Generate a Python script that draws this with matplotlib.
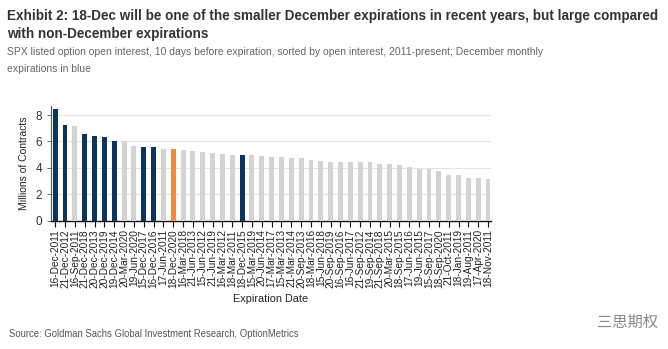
import matplotlib
matplotlib.use("Agg")
import matplotlib.pyplot as plt

labels = ["16-Dec-2011", "21-Dec-2012", "16-Sep-2011", "21-Dec-2018", "20-Dec-2013",
          "20-Dec-2019", "19-Dec-2014", "20-Mar-2020", "19-Jun-2020", "15-Dec-2017",
          "16-Dec-2016", "17-Jun-2011", "18-Dec-2020", "16-Mar-2018", "21-Jun-2013",
          "15-Jun-2012", "21-Jun-2019", "16-Mar-2012", "18-Mar-2011", "18-Dec-2015",
          "15-Mar-2019", "20-Jun-2014", "17-Mar-2017", "15-Mar-2013", "21-Mar-2014",
          "20-Sep-2013", "18-Mar-2016", "15-Jun-2018", "20-Sep-2019", "16-Sep-2016",
          "16-Jun-2017", "21-Sep-2012", "19-Sep-2014", "21-Sep-2018", "20-Mar-2015",
          "18-Sep-2015", "17-Jun-2016", "19-Jun-2015", "15-Sep-2017", "18-Sep-2020",
          "21-Oct-2011", "18-Jan-2019", "19-Aug-2011", "17-Apr-2020", "18-Nov-2011"]
values = [8.45, 7.25, 7.18, 6.58, 6.42, 6.35, 6.07, 6.07, 5.67, 5.6,
          5.6, 5.45, 5.4, 5.37, 5.3, 5.22, 5.12, 5.04, 4.97, 4.98,
          4.97, 4.9, 4.84, 4.83, 4.76, 4.75, 4.6, 4.53, 4.48, 4.46,
          4.42, 4.42, 4.42, 4.3, 4.3, 4.23, 4.08, 3.93, 3.9, 3.8,
          3.5, 3.5, 3.27, 3.27, 3.2]
# category: 'dec' = December monthly, 'cur' = 18-Dec-2020, 'other'
kinds = ["dec", "dec", "other", "dec", "dec", "dec", "dec", "other", "other", "dec",
         "dec", "other", "cur"] + ["other"] * 6 + ["dec"] + ["other"] * 25
yticks = [0, 2, 4, 6, 8]

palette = {"dec": "#0B365C", "cur": "#F28C38", "other": "#D3D3D3"}

sans = "Liberation Sans"

fig = plt.figure(figsize=(6.68, 3.49), dpi=100)
ax = fig.add_axes([0.0760, 0.3668, 0.6590, 0.3295])

x = list(range(len(values)))
ax.bar(x, values, width=0.5, color=[palette[k] for k in kinds], zorder=3)
ax.set_xlim(-0.45, len(values) - 0.7)
ax.set_ylim(0, 8.68)
ax.set_yticks(yticks)
ax.set_yticklabels([str(t) for t in yticks], fontsize=8.5, family=sans, color="#333333")
ax.set_xticks(x)
ax.set_xticklabels(labels, rotation=90, fontsize=7.3, family=sans, color="#222222")
ax.yaxis.grid(True, color="#E4E4E4", linewidth=0.8, zorder=0)
for s in ["top", "right"]:
    ax.spines[s].set_visible(False)
ax.spines["left"].set_color("#555555")
ax.spines["left"].set_linewidth(0.8)
ax.spines["bottom"].set_color("#111111")
ax.spines["bottom"].set_linewidth(1.0)
ax.tick_params(axis="x", direction="out", length=4, width=0.8, color="#111111", pad=2)
ax.tick_params(axis="y", direction="out", length=3, width=0.6, color="#555555", pad=3)
ax.set_ylabel("Millions of Contracts", fontsize=7.5, family=sans, color="#222222", labelpad=5)
ax.set_xlabel("Expiration Date", fontsize=7.8, family=sans, color="#222222", labelpad=4)

W, H = 668.0, 349.0
t1 = fig.text(7 / W, 1 - 20 / H, "Exhibit 2: 18-Dec will be one of the smaller December expirations in recent years, but large compared",
              ha="left", va="baseline", fontsize=10, fontweight="bold", family=sans, color="#333333")
t2 = fig.text(7 / W, 1 - 38 / H, "with non-December expirations",
              ha="left", va="baseline", fontsize=10, fontweight="bold", family=sans, color="#333333")
s1 = fig.text(7 / W, 1 - 55 / H, "SPX listed option open interest, 10 days before expiration, sorted by open interest, 2011-present; December monthly",
              ha="left", va="baseline", fontsize=8, family=sans, color="#666666")
s2 = fig.text(7 / W, 1 - 72 / H, "expirations in blue",
              ha="left", va="baseline", fontsize=8, family=sans, color="#666666")
src = fig.text(9 / W, 1 - 337 / H, "Source: Goldman Sachs Global Investment Research, OptionMetrics",
               ha="left", va="baseline", fontsize=7.5, family=sans, color="#555555")
fig.text(0.985, 1 - 322 / H, "三思期权", ha="right", va="center", fontsize=11,
         family=["Noto Sans CJK SC", "DejaVu Sans"], color="#888888")

# fit text widths close to the reference widths
fig.canvas.draw()
r = fig.canvas.get_renderer()
def fit(t, target, others=()):
    w = t.get_window_extent(r).width
    fs = t.get_fontsize() * target / w
    t.set_fontsize(fs)
    for o in others:
        o.set_fontsize(fs)
fit(t1, 651, [t2])
fit(s1, 540, [s2])
fit(src, 290)

fig.savefig("out.png", dpi=100)
